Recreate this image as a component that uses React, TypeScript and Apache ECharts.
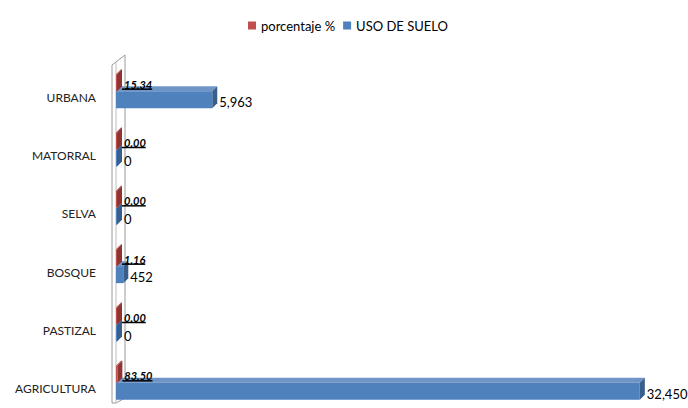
import React, { useEffect, useRef } from "react";
import * as echarts from "echarts";

const categories = ["AGRICULTURA", "PASTIZAL", "BOSQUE", "SELVA", "MATORRAL", "URBANA"];
const porcentaje = [83.5, 0.0, 1.16, 0.0, 0.0, 15.34];
const usoSuelo = [32450, 0, 452, 0, 0, 5963];
const seriesNames = ["porcentaje %", "USO DE SUELO"];

const FONT = "Lato, 'Noto Sans', sans-serif";

let ctx: CanvasRenderingContext2D | null = null;
function measure(text: string, font: string): number {
  if (!ctx) ctx = document.createElement("canvas").getContext("2d");
  if (!ctx) return text.length * 6;
  ctx.font = font;
  return ctx.measureText(text).width;
}

const palettes = [
  { front: "#C0504D", top: "#B14744", side: "#8E3432" },
  { front: "#4F81BD", top: "#6F95C6", side: "#385E8B" },
];

function makeRenderItem(seriesIdx: number) {
  return (params: any, api: any) => {
    const v = api.value(0);
    const idx = api.value(1);
    const p0 = api.coord([0, idx]);
    const p1 = api.coord([v, idx]);
    const c = p0[1];
    const x0 = p0[0];
    const x1 = Math.max(p1[0], x0 + 1);
    const dx = 5;
    const dy = -5;
    const yt = seriesIdx === 0 ? c - 23 : c - 6;
    const yb = seriesIdx === 0 ? c - 6 : c + 11;
    const pal = palettes[seriesIdx];
    const children: any[] = [
      {
        type: "polygon",
        shape: { points: [[x0, yt], [x1, yt], [x1 + dx, yt + dy], [x0 + dx, yt + dy]] },
        style: { fill: pal.top },
      },
      {
        type: "polygon",
        shape: { points: [[x1, yt], [x1 + dx, yt + dy], [x1 + dx, yb + dy], [x1, yb]] },
        style: { fill: pal.side },
      },
      {
        type: "rect",
        shape: { x: x0, y: yt, width: x1 - x0, height: yb - yt },
        style: { fill: pal.front },
      },
    ];
    if (seriesIdx === 1) {
      children.push({
        type: "text",
        style: {
          x: x1 + dx + 2,
          y: c + 5,
          text: echarts.format.addCommas(v),
          fill: "#000",
          font: `13px ${FONT}`,
          textAlign: "left",
          textVerticalAlign: "middle",
        },
      });
    } else {
      const txt = Number(v).toFixed(2);
      const font = `italic bold 11px ${FONT}`;
      const w = measure(txt, font);
      const tx = x1 + dx + 2;
      children.push({
        type: "text",
        style: {
          x: tx,
          y: c - 13,
          text: txt,
          fill: "#000",
          font,
          textAlign: "left",
          textVerticalAlign: "middle",
        },
      });
      children.push({
        type: "line",
        shape: { x1: tx - 2, y1: c - 8, x2: tx + w, y2: c - 8 },
        style: { stroke: "#000", lineWidth: 1.5 },
      });
    }
    return { type: "group", children };
  };
}

export default function App() {
  const ref = useRef<HTMLDivElement>(null);
  useEffect(() => {
    document.body.style.margin = "0";
    if (!ref.current) return;
    const chart = echarts.init(ref.current, null, { renderer: "svg" });
    chart.setOption({
      animation: false,
      backgroundColor: "#fff",
      legend: {
        data: [
          { name: seriesNames[0], itemStyle: { color: palettes[0].front } },
          { name: seriesNames[1], itemStyle: { color: palettes[1].front } },
        ],
        left: 243,
        top: 14,
        icon: "rect",
        itemWidth: 8,
        itemHeight: 8,
        itemGap: 8,
        textStyle: { fontFamily: FONT, fontSize: 13, color: "#000" },
      },
      grid: { left: 116, top: 68, height: 350, right: 7, outerBoundsMode: "none", containLabel: false },
      xAxis: {
        type: "value",
        min: 0,
        max: 35000,
        show: false,
        splitLine: { show: false },
      },
      yAxis: {
        type: "category",
        data: categories,
        axisLine: { show: false },
        axisTick: { show: false },
        axisLabel: { margin: 20, fontFamily: FONT, fontSize: 12, color: "#222" },
      },
      graphic: [
        {
          type: "polygon",
          z: 0,
          shape: { points: [[112, 403], [112, 65], [125, 55], [125, 398], [116, 403]] },
          style: { fill: "#fff", stroke: "#9a9a9a", lineWidth: 1 },
        },
        {
          type: "line",
          z: 0,
          shape: { x1: 116, y1: 62, x2: 116, y2: 403 },
          style: { stroke: "#bdbdbd", lineWidth: 1 },
        },
      ],
      series: [
        {
          name: seriesNames[0],
          type: "custom",
          clip: false,
          z: 5,
          itemStyle: { color: palettes[0].front },
          renderItem: makeRenderItem(0),
          encode: { x: 0, y: 1 },
          data: porcentaje.map((v, i) => [v, i]),
        },
        {
          name: seriesNames[1],
          type: "custom",
          clip: false,
          z: 4,
          itemStyle: { color: palettes[1].front },
          renderItem: makeRenderItem(1),
          encode: { x: 0, y: 1 },
          data: usoSuelo.map((v, i) => [v, i]),
        },
      ],
    });
    return () => chart.dispose();
  }, []);
  return <div ref={ref} style={{ width: 688, height: 408 }} />;
}
